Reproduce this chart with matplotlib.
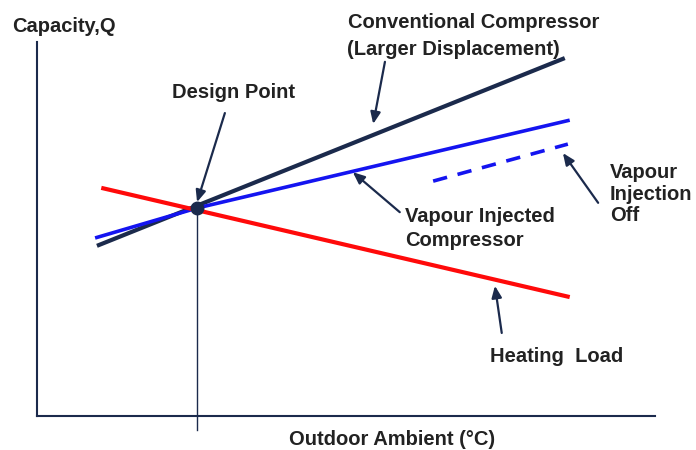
import matplotlib.pyplot as plt

# capacity vs outdoor ambient, arbitrary units (x 0..10, y 0..10)
conv_x = [0.97, 8.54]
conv_y = [4.55, 9.57]

vi_x = [0.94, 2.59, 8.62]
vi_y = [4.76, 5.56, 7.91]

vi_off_x = [6.41, 8.59]
vi_off_y = [6.28, 7.27]

load_x = [1.04, 8.62]
load_y = [6.10, 3.18]

design_x = 2.59
design_y = 5.56

navy = "#1b2a4c"
blue = "#1414f0"
red = "#ff0a0a"
txt = "#222222"

plt.rcParams["font.family"] = ["Liberation Sans", "DejaVu Sans"]

fig = plt.figure(figsize=(6.96, 4.5), dpi=100)
ax = fig.add_axes([37 / 696, 34 / 450, 618 / 696, 374 / 450])
ax.set_xlim(0, 10)
ax.set_ylim(0, 10)

ax.plot(conv_x, conv_y, color=navy, lw=3.0, solid_capstyle="butt")
ax.plot(vi_x, vi_y, color=blue, lw=2.6, solid_capstyle="butt")
ax.plot(vi_off_x, vi_off_y, color=blue, lw=2.6, ls=(0, (4, 3)))
ax.plot(load_x, load_y, color=red, lw=3.0, solid_capstyle="butt")
ax.plot([design_x], [design_y], "o", color=navy, ms=9, zorder=5)
ax.plot([design_x, design_x], [design_y, -0.37], color=navy, lw=1.0, clip_on=False)

for s in ["top", "right"]:
    ax.spines[s].set_visible(False)
for s in ["left", "bottom"]:
    ax.spines[s].set_color(navy)
    ax.spines[s].set_linewidth(1.5)
ax.set_xticks([])
ax.set_yticks([])

fs = 14.5
kw = dict(fontsize=fs, fontweight="bold", color=txt, clip_on=False)
fig.text(12 / 696, 1 - 27 / 450, "Capacity,Q", va="center", ha="left", **kw)
ax.text(5.03, 10.51, "Conventional Compressor", va="center", **kw)
ax.text(5.02, 9.79, "(Larger Displacement)", va="center", **kw)
ax.text(2.18, 8.66, "Design Point", va="center", **kw)
ax.text(5.95, 5.01, "Vapour Injected\nCompressor", va="center", linespacing=1.35, **kw)
ax.text(9.27, 5.93, "Vapour\nInjection\nOff", va="center", linespacing=1.15, **kw)
ax.text(7.33, 1.60, "Heating  Load", va="center", **kw)
ax.text(5.75, -0.64, "Outdoor Ambient (°C)", va="center", ha="center", **kw)

arrows = [
    ((3.04, 8.10), (2.59, 5.72)),
    ((5.63, 9.47), (5.44, 7.81)),
    ((5.87, 5.45), (5.11, 6.52)),
    ((9.08, 5.70), (8.51, 7.03)),
    ((7.52, 2.22), (7.41, 3.48)),
]
for tail, head in arrows:
    ax.annotate("", xy=head, xytext=tail,
                arrowprops=dict(arrowstyle="-|>,head_length=0.7,head_width=0.3",
                                color=navy, lw=1.6, shrinkA=0, shrinkB=0))

fig.savefig("out.png", dpi=100)
